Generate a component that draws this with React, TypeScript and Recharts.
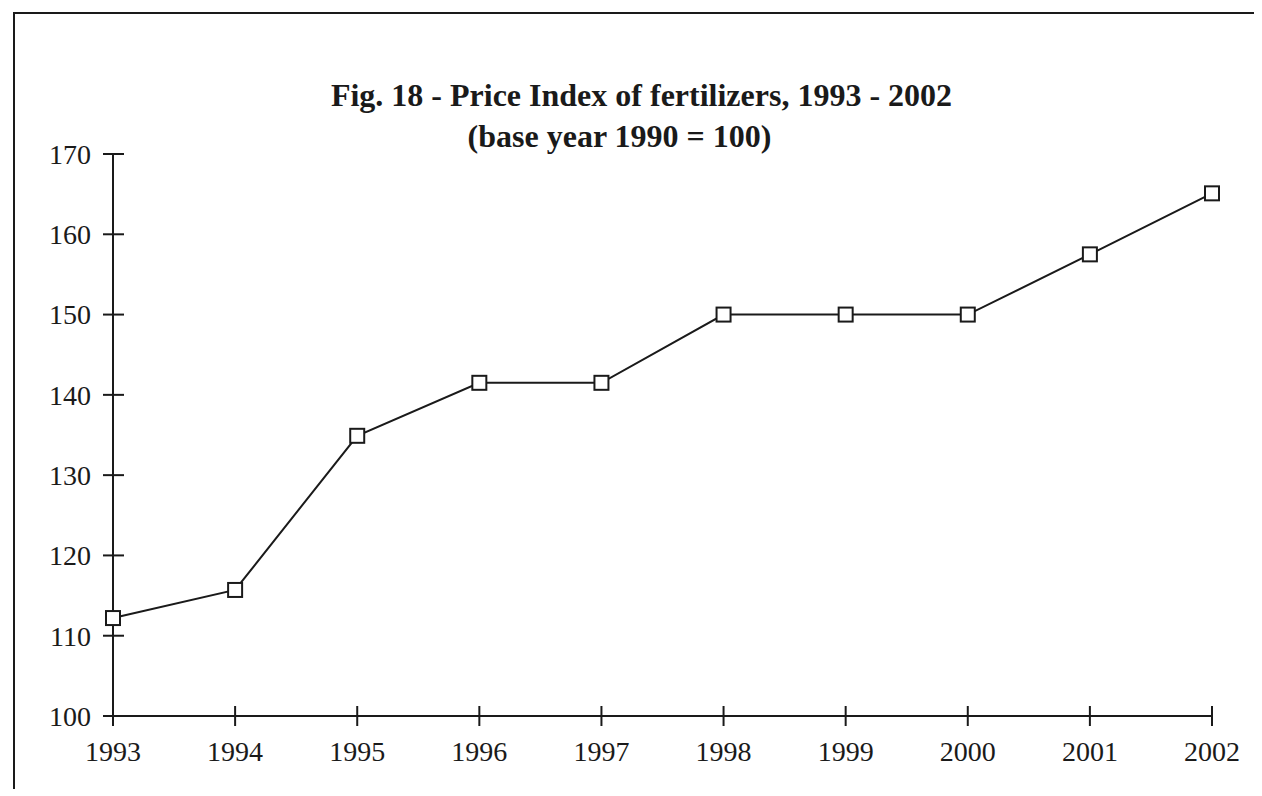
import { LineChart, Line, XAxis, YAxis } from "recharts";

const years = ["1993", "1994", "1995", "1996", "1997", "1998", "1999", "2000", "2001", "2002"];
const priceIndex = [112.2, 115.7, 134.9, 141.5, 141.5, 150.0, 150.0, 150.0, 157.5, 165.1];
const yTicks = [100, 110, 120, 130, 140, 150, 160, 170];

const title = "Fig. 18 - Price Index of fertilizers, 1993 - 2002";
const subtitle = "(base year 1990 = 100)";

const data = years.map((year, i) => ({ year, value: priceIndex[i] }));

const FONT = '"Liberation Serif", "Times New Roman", serif';
const INK = "#1a1a1a";

const YTick = (props: any) => {
  const { x, y, payload } = props;
  return (
    <g>
      <line x1={x + 12} x2={x + 33} y1={y} y2={y} stroke={INK} strokeWidth={2} />
      <text x={x} y={y} dy="0.35em" textAnchor="end" fontFamily={FONT} fontSize={28} fill={INK}>
        {payload.value}
      </text>
    </g>
  );
};

const XTick = (props: any) => {
  const { x, y, payload } = props;
  return (
    <g>
      <line x1={x} x2={x} y1={y - 35} y2={y - 15} stroke={INK} strokeWidth={2} />
      <text x={x} y={y} dy="0.71em" textAnchor="middle" fontFamily={FONT} fontSize={28} fill={INK}>
        {payload.value}
      </text>
    </g>
  );
};

const SquareDot = (props: any) => {
  const { cx, cy } = props;
  if (cx == null || cy == null) return null;
  return <rect x={cx - 7} y={cy - 7} width={14} height={14} fill="#fff" stroke={INK} strokeWidth={2} />;
};

const titleStyle = {
  position: "absolute" as const,
  left: 0,
  right: 0,
  textAlign: "center" as const,
  fontFamily: FONT,
  fontWeight: "bold" as const,
  fontSize: 32,
  color: INK,
};

export default function App() {
  return (
    <div
      style={{
        position: "relative",
        marginLeft: 5,
        marginTop: 4,
        width: 1247,
        height: 775,
        borderTop: `2px solid ${INK}`,
        borderLeft: `2px solid ${INK}`,
      }}
    >
      <div style={{ ...titleStyle, top: 63, paddingLeft: 6 }}>{title}</div>
      <div style={{ ...titleStyle, top: 104, paddingRight: 38 }}>{subtitle}</div>
      <LineChart
        width={1247}
        height={775}
        data={data}
        margin={{ top: 140, right: 50, left: 0, bottom: 23 }}
      >
        <XAxis
          dataKey="year"
          height={50}
          tickLine={false}
          tickSize={0}
          tickMargin={25}
          axisLine={{ stroke: INK, strokeWidth: 2 }}
          tick={<XTick />}
          interval={0}
        />
        <YAxis
          width={98}
          domain={[100, 170]}
          ticks={yTicks}
          interval={0}
          tickLine={false}
          tickSize={0}
          tickMargin={22}
          axisLine={{ stroke: INK, strokeWidth: 2 }}
          tick={<YTick />}
        />
        <Line
          type="linear"
          dataKey="value"
          stroke={INK}
          strokeWidth={2}
          dot={<SquareDot />}
          activeDot={false}
          isAnimationActive={false}
        />
      </LineChart>
    </div>
  );
}
